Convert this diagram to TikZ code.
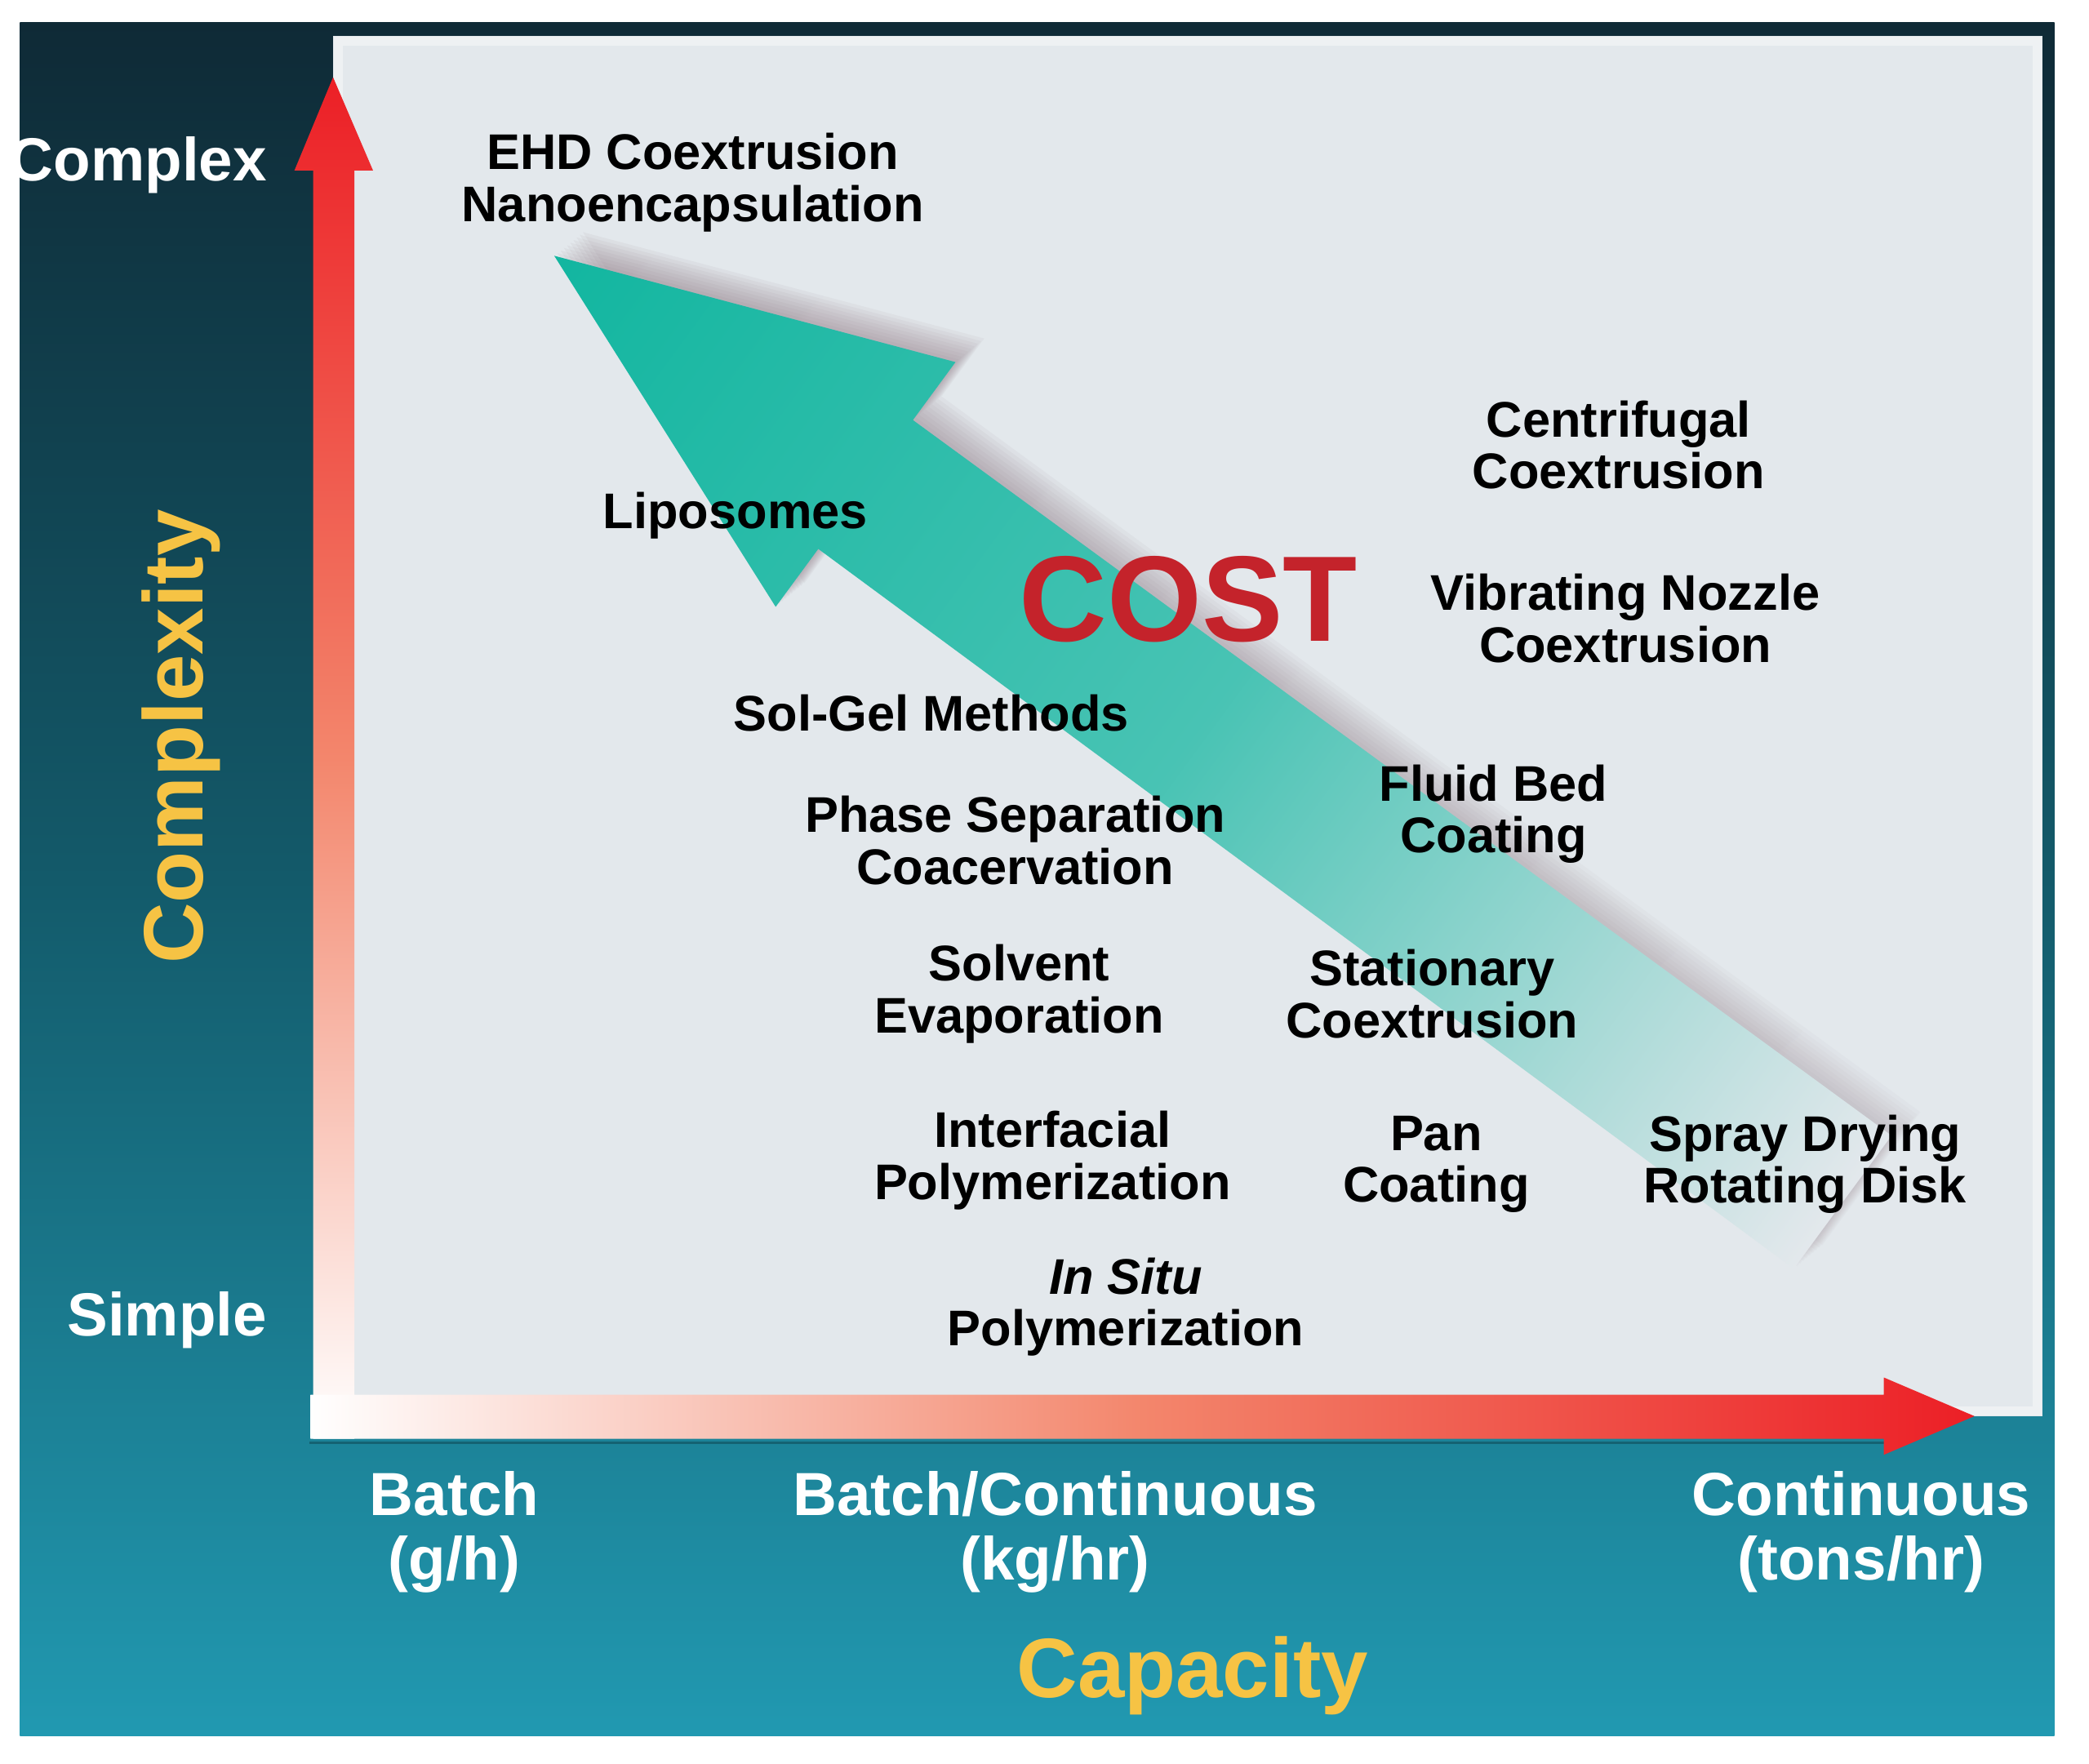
\documentclass[tikz,border=0pt]{standalone}
\usepackage{fontspec}
\setmainfont{Liberation Sans}
\usetikzlibrary{fadings}
\definecolor{bgtop}{HTML}{0F2A36}
\definecolor{bgmid}{HTML}{135A6A}
\definecolor{bgbot}{HTML}{2199B1}
\definecolor{panel}{HTML}{E3E8EC}
\definecolor{arrowred}{HTML}{EC1F26}
\definecolor{salmon}{HTML}{F3866C}
\definecolor{costteal}{HTML}{12B6A0}
\definecolor{costred}{HTML}{C4232B}
\definecolor{axisyellow}{HTML}{F6C344}
\definecolor{shadowc}{HTML}{8C7680}
\tikzfading[name=tailfade, left color=transparent!0, middle color=transparent!0, right color=transparent!55]
\def\costarrow{(0,0) -- (290,-114) -- (290,-60) -- (1200,-62) -- (1200,62) -- (290,60) -- (290,114) -- cycle}
\tikzset{
  method/.style={font=\fontsize{10.7}{11.1}\selectfont\bfseries, align=center, inner sep=0pt, text=black},
  axislbl/.style={font=\fontsize{13}{13.7}\selectfont\bfseries, align=center, inner sep=0pt, text=white},
  axistitle/.style={font=\fontsize{18}{20}\selectfont\bfseries, inner sep=0pt, text=axisyellow}
}
\begin{document}
\begin{tikzpicture}[x=0.1mm,y=-0.1mm]
    \useasboundingbox (0,0) rectangle (1568,1324);
    \fill[white] (0,0) rectangle (1568,1324);
    \shade[top color=bgtop, bottom color=bgbot, middle color=bgmid] (15,17) rectangle (1542,1303);
    \fill[panel] (250,27) rectangle (1533,1063);
    \draw[white, opacity=0.4, line width=0.7mm] (254,31) rectangle (1529,1059);
    % axes
    \fill[black, opacity=0.25] (232,1082) rectangle (1414,1084);
    \shade[top color=arrowred, bottom color=white, middle color=salmon] (235,1080) -- (235,128) -- (221,128) -- (250,58) -- (280,128) -- (266,128) -- (266,1080) -- cycle;
    \shade[left color=white, right color=arrowred, middle color=salmon] (233,1047) -- (1414,1047) -- (1414,1034) -- (1482,1063) -- (1414,1092) -- (1414,1080) -- (233,1080) -- cycle;
    % cost arrow
    \begin{scope}[transform canvas={shift={(416,192)}, rotate=-36.3}]
	\foreach \s in {3,6,...,27}
	    \fill[shadowc, opacity=0.075, path fading=tailfade, shift={(0.25*\s,-\s)}] \costarrow;
	\shade[left color=costteal, right color=panel, middle color=costteal!74!panel] \costarrow;
    \end{scope}
    % labels
    \node[method] (ehd) at (520,137) {EHD Coextrusion\\Nanoencapsulation};
    \node[method] (lipo) at (552,387) {Liposomes};
    \node[font=\fontsize{26}{28}\selectfont\bfseries, text=costred, inner sep=0pt] (cost) at (892,450) {COST};
    \node[method] (centri) at (1215,334) {Centrifugal\\Coextrusion};
    \node[method] (vibr) at (1220,464) {Vibrating Nozzle\\Coextrusion};
    \node[method] (solgel) at (699,535) {Sol-Gel Methods};
    \node[method] (phase) at (762,631) {Phase Separation\\Coacervation};
    \node[method] (fluid) at (1121,611) {Fluid Bed\\Coating};
    \node[method] (solvent) at (765,746) {Solvent\\Evaporation};
    \node[method] (station) at (1075,746) {Stationary\\Coextrusion};
    \node[method] (interf) at (790,871) {Interfacial\\Polymerization};
    \node[method] (pan) at (1078,874) {Pan\\Coating};
    \node[method] (spray) at (1355,874) {Spray Drying\\Rotating Disk};
    \node[method] (insitu) at (845,981) {\textit{In Situ}\\Polymerization};
    % axis labels
    \node[axislbl, anchor=east] (complex) at (201,124) {Complex};
    \node[axislbl, anchor=east] (simple) at (201,991) {Simple};
    \node[axistitle, rotate=90] (complexity) at (136,553) {Complexity};
    \node[axislbl] (batch) at (341,1150) {Batch\\(g/h)};
    \node[axislbl] (batchcont) at (792,1150) {Batch/Continuous\\(kg/hr)};
    \node[axislbl] (cont) at (1397,1150) {Continuous\\(tons/hr)};
    \node[axistitle] (capacity) at (895,1258) {Capacity};
\end{tikzpicture}
\end{document}
